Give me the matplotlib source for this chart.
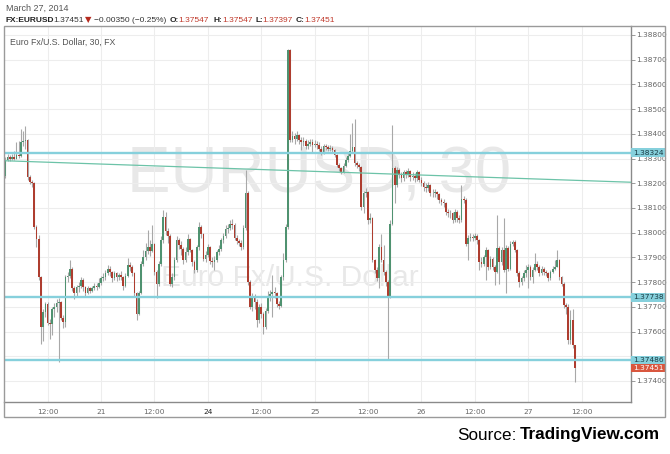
import matplotlib
matplotlib.use('Agg')
import matplotlib.pyplot as plt
import numpy as np

# EUR/USD 30 min candles, prices stored as pips above 1.37000
BASE = 1.37
first_open = 123.0
closes = [
    129.5, 130.5, 129.8, 130.5, 130.0, 131.5, 131.0, 136.5, 137.0, 137.5,
    122.6, 120.6, 120.0, 102.4, 97.5, 82.1, 62.0, 68.0, 71.3, 63.5,
    63.0, 69.0, 70.0, 71.5, 71.8, 65.5, 64.0, 82.1, 82.5, 85.5,
    77.5, 75.4, 78.0, 78.5, 81.0, 78.0, 75.5, 77.5, 76.5, 77.8,
    78.5, 78.0, 79.5, 81.5, 82.0, 83.5, 85.5, 84.0, 81.5, 83.5,
    82.0, 82.8, 82.0, 78.5, 82.5, 86.9, 86.0, 83.5, 75.4, 67.2,
    75.4, 87.5, 90.0, 92.5, 94.3, 92.5, 95.5, 84.0, 79.4, 87.5,
    97.0, 106.4, 100.5, 98.5, 79.4, 82.0, 89.0, 97.0, 95.0, 93.5,
    89.0, 92.0, 97.5, 93.0, 88.0, 84.8, 94.0, 102.4, 99.5, 89.5,
    91.0, 94.0, 88.5, 88.0, 89.0, 92.0, 93.5, 97.0, 98.5, 101.5,
    102.0, 103.7, 103.0, 98.0, 96.5, 96.0, 94.3, 102.0, 115.9, 80.1,
    70.0, 74.0, 72.0, 64.6, 70.0, 67.0, 61.9, 68.5, 74.0, 75.0,
    76.0, 75.5, 71.3, 70.5, 82.1, 88.9, 102.4, 174.0, 137.5, 139.0,
    138.0, 139.5, 137.5, 136.5, 137.0, 135.0, 136.0, 136.5, 135.5, 136.0,
    135.5, 134.0, 132.7, 135.0, 134.5, 134.0, 134.2, 133.5, 131.4, 127.3,
    126.0, 124.6, 127.0, 129.4, 131.0, 133.0, 134.8, 128.0, 127.3, 126.5,
    110.5, 115.9, 116.5, 105.1, 106.0, 88.9, 85.0, 81.5, 94.3, 88.9,
    84.2, 80.0, 74.0, 103.7, 126.0, 119.3, 125.3, 123.5, 122.0, 124.5,
    123.5, 125.0, 122.5, 123.0, 122.0, 124.6, 121.5, 120.0, 118.6, 118.0,
    119.2, 116.0, 115.9, 116.5, 115.5, 113.2, 112.5, 111.8, 108.4, 108.0,
    107.8, 105.1, 108.4, 106.0, 105.1, 113.8, 113.2, 95.6, 97.7, 98.3,
    98.0, 98.6, 97.0, 88.2, 87.5, 90.0, 92.9, 86.2, 89.5, 86.2,
    84.2, 93.6, 88.0, 93.0, 84.8, 93.6, 85.5, 95.6, 96.3, 93.0,
    83.5, 80.1, 81.5, 83.5, 85.0, 86.2, 82.1, 85.0, 87.5, 86.2,
    83.5, 85.5, 84.2, 83.5, 81.5, 84.0, 85.5, 86.2, 88.9, 82.1,
    79.4, 70.7, 70.0, 56.5, 64.6, 54.7, 45.1]
highs = [
    130.5, 132.0, 131.5, 131.8, 133.0, 136.8, 137.0, 142.0, 141.0, 143.3,
    138.0, 123.5, 121.5, 120.5, 103.0, 99.0, 82.5, 69.0, 72.0, 72.0,
    65.0, 70.0, 71.5, 73.0, 73.5, 72.5, 66.5, 83.0, 84.0, 88.9,
    86.0, 78.5, 79.0, 80.0, 82.0, 81.5, 78.5, 78.5, 78.0, 78.5,
    79.5, 79.5, 81.5, 82.5, 83.5, 85.0, 87.0, 86.5, 84.5, 84.5,
    84.0, 83.5, 84.5, 82.5, 83.5, 89.6, 88.0, 87.0, 84.0, 76.0,
    76.5, 88.5, 93.0, 96.0, 101.0, 97.0, 103.0, 96.0, 85.0, 88.5,
    98.5, 109.1, 108.5, 102.0, 99.5, 83.5, 90.0, 98.5, 98.0, 96.5,
    94.0, 94.0, 99.5, 98.0, 93.5, 89.0, 95.0, 104.5, 103.0, 100.0,
    92.5, 95.5, 94.5, 90.0, 90.5, 93.0, 95.0, 98.0, 100.0, 103.0,
    103.5, 105.0, 105.5, 104.0, 99.0, 97.5, 97.0, 103.0, 125.3, 117.0,
    81.0, 75.5, 75.0, 73.0, 71.0, 71.5, 68.0, 69.5, 76.5, 77.0,
    82.8, 78.0, 76.0, 72.5, 83.0, 91.6, 103.5, 174.4, 174.2, 141.0,
    140.5, 141.0, 140.0, 138.5, 138.5, 138.0, 137.5, 138.0, 138.0, 137.5,
    137.0, 136.5, 135.0, 136.0, 136.0, 135.5, 135.5, 135.0, 134.0, 132.0,
    128.0, 126.5, 128.0, 130.5, 132.5, 140.0, 144.2, 145.8, 129.0, 128.0,
    127.0, 117.0, 118.0, 117.0, 108.0, 106.5, 89.5, 86.0, 95.5, 99.5,
    95.0, 85.0, 81.0, 105.0, 143.5, 127.0, 126.5, 126.0, 124.5, 125.5,
    125.5, 126.0, 125.5, 124.5, 124.0, 125.5, 125.0, 122.5, 121.0, 120.0,
    120.5, 119.5, 117.5, 117.5, 117.0, 116.0, 114.0, 113.5, 112.5, 109.5,
    109.0, 108.5, 109.5, 109.0, 107.0, 119.3, 115.0, 114.0, 99.0, 100.0,
    99.5, 100.0, 99.5, 97.5, 90.0, 91.0, 94.0, 93.5, 90.5, 90.0,
    87.0, 107.1, 94.5, 94.0, 105.8, 95.0, 94.5, 96.5, 97.0, 97.0,
    93.5, 84.5, 82.5, 85.0, 87.0, 87.5, 87.0, 86.0, 91.6, 88.5,
    87.0, 86.5, 86.0, 85.0, 84.0, 85.0, 86.5, 89.0, 92.9, 89.5,
    82.5, 80.0, 71.5, 71.0, 68.7, 69.3, 54.7]
lows = [
    122.0, 128.8, 129.0, 129.2, 129.5, 129.6, 130.2, 130.5, 135.0, 134.0,
    121.5, 119.8, 118.5, 101.5, 94.0, 81.0, 55.1, 56.0, 66.0, 62.5,
    57.0, 58.5, 66.0, 68.0, 47.7, 64.5, 61.5, 62.0, 80.0, 81.5,
    76.5, 73.0, 74.5, 76.0, 77.5, 76.5, 74.0, 75.0, 75.5, 76.0,
    77.0, 77.0, 77.5, 79.0, 80.5, 81.0, 83.0, 82.5, 80.0, 81.0,
    80.5, 80.8, 81.0, 77.0, 78.0, 82.0, 84.5, 82.5, 74.0, 64.6,
    66.5, 75.0, 86.5, 89.0, 91.5, 90.5, 92.0, 83.0, 73.4, 78.5,
    86.5, 96.0, 99.0, 96.0, 78.5, 78.0, 81.0, 88.0, 93.5, 91.0,
    87.5, 88.0, 91.0, 92.0, 86.5, 83.5, 84.0, 93.0, 98.0, 88.5,
    88.0, 90.0, 87.5, 86.0, 84.8, 88.0, 91.0, 92.5, 96.0, 98.0,
    100.0, 101.0, 101.5, 97.0, 95.5, 94.5, 93.0, 93.5, 101.0, 79.0,
    69.0, 68.5, 69.0, 62.0, 63.5, 65.5, 59.2, 61.0, 67.5, 72.5,
    66.0, 73.5, 70.0, 69.0, 70.0, 81.0, 88.0, 101.5, 136.5, 136.5,
    136.0, 137.0, 136.0, 133.5, 135.0, 134.0, 134.0, 135.0, 132.7, 134.5,
    134.0, 133.0, 131.5, 132.0, 133.5, 133.0, 133.0, 132.5, 130.5, 126.5,
    125.0, 123.8, 124.0, 126.5, 128.5, 130.5, 132.5, 127.0, 126.0, 125.0,
    109.0, 108.0, 114.5, 103.7, 104.0, 88.0, 83.5, 80.5, 77.5, 88.0,
    83.0, 78.5, 48.4, 73.5, 103.0, 112.0, 118.5, 122.0, 120.5, 121.0,
    122.0, 122.5, 121.0, 121.5, 120.5, 121.0, 120.5, 119.0, 117.0, 116.5,
    117.0, 115.0, 114.5, 114.5, 113.5, 112.0, 111.0, 110.5, 107.0, 106.5,
    106.0, 104.0, 104.5, 104.5, 104.0, 104.5, 112.0, 94.5, 88.9, 96.5,
    96.5, 97.0, 95.5, 84.8, 86.0, 86.5, 80.7, 85.0, 85.5, 85.0,
    79.0, 83.5, 79.4, 87.0, 84.0, 75.4, 84.5, 85.0, 94.5, 92.0,
    82.5, 78.0, 79.0, 80.5, 82.0, 77.5, 81.0, 79.5, 84.5, 85.0,
    82.5, 83.0, 83.0, 82.5, 80.5, 81.0, 83.5, 85.0, 86.0, 81.0,
    78.5, 69.5, 67.3, 55.0, 55.0, 53.5, 39.7]

# time axis (candle index of each tick) and labels
tick_pos = [19, 43, 67, 91, 115, 139, 163, 187, 211, 235, 259]
tick_labels = ['12:00', '21', '12:00', '24', '12:00', '25', '12:00', '26', '12:00', '27', '12:00']

# price scale ticks (the 1.37500 label sits behind the level boxes)
price_ticks = [1.374, 1.375, 1.376, 1.377, 1.378, 1.379, 1.380, 1.381,
               1.382, 1.383, 1.384, 1.385, 1.386, 1.387, 1.388]
price_labels = ['1.37400', '', '1.37600', '1.37700', '1.37800', '1.37900', '1.38000', '1.38100',
                '1.38200', '1.38300', '1.38400', '1.38500', '1.38600', '1.38700', '1.38800']

# drawn levels
h_levels = [1.38324, 1.37738, 1.37486]
trend_start = 1.38291
trend_end = 1.38204
last_price = 1.37451

UP = '#4f9270'
DOWN = '#ae3d2f'
CYAN = '#86d0dc'

W, H = 670, 454
fig = plt.figure(figsize=(W / 100, H / 100), dpi=100)
fig.patch.set_facecolor('white')

# plot area in pixel coordinates of the reference
L, R, T, B = 4, 631, 26, 402
ax = fig.add_axes([L / W, 1 - B / H, (R - L) / W, (B - T) / H])

n = len(closes)
idx = np.arange(n)
c = BASE + np.array(closes) / 10000
o = BASE + np.array([first_open] + closes[:-1]) / 10000
hi = BASE + np.array(highs) / 10000
lo = BASE + np.array(lows) / 10000
up = c >= o

x0, x1 = -0.6, 281.2
y0, y1 = 1.37315, 1.38836
ax.set_xlim(x0, x1)
ax.set_ylim(y0, y1)

# watermark
ax.text(141, 1.3823, 'EURUSD, 30', ha='center', va='center', fontsize=47,
        color='#e8e8e8', family='Liberation Sans', zorder=0)
ax.text(128, 1.37815, 'Euro Fx/U.S. Dollar', ha='center', va='center', fontsize=21.5,
        color='#e8e8e8', family='Liberation Sans', zorder=0)

# grid
for y in price_ticks:
    ax.axhline(y, color='#ededed', lw=0.8, zorder=0.5)
for t in tick_pos:
    ax.axvline(t, color='#ededed', lw=0.8, zorder=0.5)

# candles
ax.vlines(idx, lo, hi, color='#a8a8a8', lw=0.8, zorder=2)
ax.bar(idx[up], (c - o)[up], bottom=o[up], width=0.75, color=UP, lw=0, zorder=3)
ax.bar(idx[~up], (c - o)[~up], bottom=o[~up], width=0.75, color=DOWN, lw=0, zorder=3)

# support / resistance lines
for lv in h_levels:
    ax.axhline(lv, color=CYAN, lw=1.7, zorder=4)
ax.plot([x0, x1], [trend_start, trend_end], color='#6cc3a8', lw=0.9, zorder=4)

# axes styling
for s in ['left', 'top']:
    ax.spines[s].set_visible(False)
for s in ['right', 'bottom']:
    ax.spines[s].set_color('#8a8a8a')
    ax.spines[s].set_linewidth(1.0)

ax.yaxis.tick_right()
ax.set_yticks(price_ticks)
ax.set_yticklabels(price_labels)
ax.tick_params(axis='y', length=3, width=0.6, color='#8a8a8a', labelsize=5.3,
               labelcolor='#666666', pad=1)
ax.set_xticks(tick_pos)
ax.set_xticklabels(tick_labels)
ax.tick_params(axis='x', length=0, labelsize=5.3, labelcolor='#666666', pad=5)
for lab in ax.get_xticklabels():
    if lab.get_text() == '24':
        lab.set_color('#222222')

# price labels on the right scale (boxes 34 px wide, ~8 px tall)
tr = ax.get_yaxis_transform()
box_w = 34 / (R - L)
box_h = 8.2 * (y1 - y0) / (B - T)
for lv, fc, tc in [(h_levels[0], CYAN, '#1a3c44'), (h_levels[1], CYAN, '#1a3c44'),
                   (h_levels[2], CYAN, '#1a3c44'), (last_price, '#d9573f', 'white')]:
    ax.add_patch(plt.Rectangle((1.0, lv - box_h / 2), box_w, box_h, transform=tr,
                               fc=fc, ec='none', clip_on=False, zorder=9))
    ax.text(1.0 + box_w / 2, lv, '%.5f' % lv, transform=tr, ha='center', va='center',
            fontsize=5.4, color=tc, zorder=10, clip_on=False)

# outer frame
fig.add_artist(plt.Rectangle((L / W, 1 - 417 / H), (665 - L) / W, (417 - T) / H,
                             transform=fig.transFigure, fill=False, ec='#9a9a9a', lw=1.0))

# header texts
def ftext(x, y, s, family='Liberation Sans', **kw):
    fig.text(x / W, 1 - y / H, s, va='center', ha='left', family=family, **kw)

ftext(6, 8, 'March 27, 2014', fontsize=6.5, color='#555555')
ftext(6, 20, 'FX:EURUSD', fontsize=6, color='#222222', weight='bold')
ftext(53, 20, '1.37451', fontsize=6, color='#333333')
ftext(85, 20, '\u25BC', family='DejaVu Sans', fontsize=6, color='#b52a1e')
ftext(94, 20, '\u22120.00350 (\u22120.25%)', fontsize=6, color='#333333')
for xl, lab in [(170, 'O:'), (213, 'H:'), (255, 'L:'), (296, 'C:')]:
    ftext(xl, 20, lab, fontsize=6, color='#222222', weight='bold')
ftext(178, 20, '1.37547', fontsize=6, color='#c0392b')
ftext(222.5, 20, '1.37547', fontsize=6, color='#c0392b')
ftext(262.5, 20, '1.37397', fontsize=6, color='#c0392b')
ftext(304, 20, '1.37451', fontsize=6, color='#c0392b')

ftext(10, 42, 'Euro Fx/U.S. Dollar, 30, FX', fontsize=6.3, color='#555555')

# source
src_font = ['Liberation Sans Narrow', 'Liberation Sans']
src = fig.text(660 / W, 1 - 435 / H, 'TradingView.com', ha='right', va='center',
               fontsize=12.3, weight='bold', color='black', family=src_font)
fig.canvas.draw()
bb = src.get_window_extent()
fig.text(bb.x0 / W - 0.005, 1 - 435 / H, 'Source:', ha='right', va='center',
         fontsize=12.3, color='black', family=src_font)

fig.savefig('out.png', dpi=100, facecolor='white')
